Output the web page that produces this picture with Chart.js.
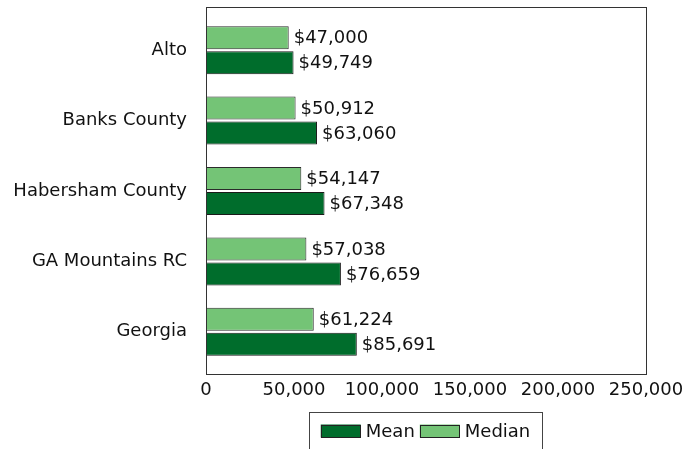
<!DOCTYPE html>
<html>
<head>
<meta charset="utf-8">
<script src="https://cdn.jsdelivr.net/npm/chart.js@4"></script>
<style>
  html, body { margin: 0; padding: 0; background: #fff; }
  #wrap { width: 685px; height: 449px; }
</style>
</head>
<body>
<div id="wrap"><canvas id="incomeChart"></canvas></div>
<script>
// Household income by area
const areas = ['Alto', 'Banks County', 'Habersham County', 'GA Mountains RC', 'Georgia'];
const medianIncome = [47000, 50912, 54147, 57038, 61224];
const meanIncome = [49749, 63060, 67348, 76659, 85691];
const xTicks = [0, 50000, 100000, 150000, 200000, 250000];

const FONT = '"DejaVu Sans", sans-serif';
const FONT_SIZE = 18;

// Frame round the plot area and a boxed legend below the axis
const framePlugin = {
    id: 'frame',
    afterDraw(chart) {
        const ctx = chart.ctx;
        const a = chart.chartArea;
        ctx.save();
        ctx.strokeStyle = '#333';
        ctx.lineWidth = 1;
        ctx.strokeRect(Math.round(a.left) + 0.5, Math.round(a.top) - 7.5,
            Math.round(a.right - a.left), Math.round(a.bottom - a.top) + 15);

        // legend, Mean first
        const items = chart.data.datasets.slice().reverse();
        ctx.font = FONT_SIZE + 'px ' + FONT;
        ctx.textBaseline = 'middle';
        const boxW = 40, boxH = 13, gap = 5, sep = 5;
        let total = 0;
        items.forEach(ds => { total += boxW + gap + ctx.measureText(ds.label).width; });
        total += sep * (items.length - 1);
        const lx = 309, lw = 233, ly = 412, lh = 40;
        ctx.strokeStyle = '#444';
        ctx.strokeRect(lx + 0.5, ly + 0.5, lw, lh);
        let x = lx + (lw - total) / 2;
        const cy = 431;
        items.forEach(ds => {
            ctx.fillStyle = ds.backgroundColor;
            ctx.fillRect(x, cy - boxH / 2, boxW, boxH);
            ctx.strokeStyle = '#222';
            ctx.strokeRect(Math.round(x) + 0.5, Math.round(cy - boxH / 2) + 0.5, boxW - 1, boxH - 1);
            x += boxW + gap;
            ctx.fillStyle = '#111';
            ctx.fillText(ds.label, x, cy + 1);
            x += ctx.measureText(ds.label).width + sep;
        });
        ctx.restore();
    }
};

// Value labels at the end of each bar
const valueLabels = {
    id: 'valueLabels',
    afterDatasetsDraw(chart) {
        const ctx = chart.ctx;
        ctx.save();
        ctx.font = FONT_SIZE + 'px ' + FONT;
        ctx.fillStyle = '#111';
        ctx.textBaseline = 'middle';
        chart.data.datasets.forEach((ds, i) => {
            chart.getDatasetMeta(i).data.forEach((bar, j) => {
                ctx.fillText('$' + ds.data[j].toLocaleString('en-US'), bar.x + 5, bar.y + 1);
            });
        });
        ctx.restore();
    }
};

const ctx = document.getElementById('incomeChart').getContext('2d');

new Chart(ctx, {
    type: 'bar',
    data: {
        labels: areas,
        datasets: [{
            label: 'Median',
            data: medianIncome,
            backgroundColor: '#74c476',
            borderColor: '#2b2b2b',
            borderWidth: 1,
            borderSkipped: false
        }, {
            label: 'Mean',
            data: meanIncome,
            backgroundColor: '#006d2c',
            borderColor: '#1a1a1a',
            borderWidth: 1,
            borderSkipped: false
        }]
    },
    options: {
        indexAxis: 'y',
        responsive: true,
        maintainAspectRatio: false,
        animation: false,
        categoryPercentage: 0.71,
        barPercentage: 0.92,
        layout: {
            padding: { top: 15, right: 0, left: 0, bottom: 44 }
        },
        scales: {
            x: {
                min: 0,
                max: 250000,
                afterBuildTicks: scale => {
                    scale.ticks = xTicks.map(v => ({ value: v }));
                },
                afterFit: scale => {
                    scale.height = 38;
                    scale.paddingLeft = 0;
                    scale.paddingRight = 39;
                },
                grid: { display: false, drawTicks: false },
                border: { display: false },
                ticks: {
                    padding: 13,
                    maxRotation: 0,
                    color: '#111',
                    font: { family: FONT, size: FONT_SIZE },
                    callback: v => v.toLocaleString('en-US')
                }
            },
            y: {
                afterFit: scale => {
                    scale.width = 206;
                    scale.paddingTop = 0;
                    scale.paddingBottom = 0;
                },
                grid: { display: false, drawTicks: false },
                border: { display: false },
                ticks: {
                    padding: 19,
                    color: '#111',
                    font: { family: FONT, size: FONT_SIZE }
                }
            }
        },
        plugins: {
            legend: { display: false },
            tooltip: { enabled: false }
        }
    },
    plugins: [framePlugin, valueLabels]
});
</script>
</body>
</html>
